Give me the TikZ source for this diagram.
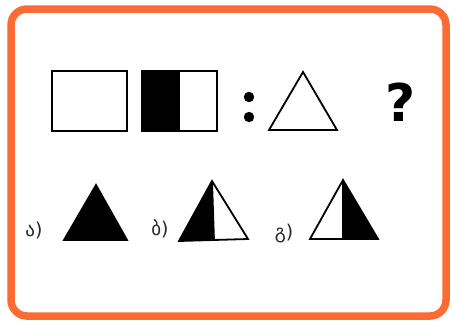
\documentclass[tikz,border=0pt]{standalone}
\usepackage{fontspec}
\newfontfamily\geo{DejaVu Sans}
\newfontfamily\qfont{DejaVu Sans}
\definecolor{frameorange}{RGB}{250,108,52}
\definecolor{labelgray}{RGB}{40,40,40}
\tikzset{
  shapeline/.style={draw=black, line width=2.6pt, line join=miter},
  triline/.style={draw=black, line width=1.8pt, line join=miter},
  optlabel/.style={font=\geo\fontsize{19}{19}\selectfont, text=labelgray, inner sep=0pt}
}
\begin{document}
\begin{tikzpicture}[x=1pt,y=-1pt]
\useasboundingbox (0,0) rectangle (452,322);
\fill[white] (0,0) rectangle (452,322);
% frame
\draw[frameorange, line width=7.5pt, rounded corners=16pt] (11,9) rectangle (446,316);
% rectangles
\draw[shapeline] (52,71) rectangle (127,131);
\fill[black] (142,71) rectangle (180,131);
\draw[shapeline] (142,71) rectangle (217,131);
% colon
\fill (249,97) circle (5.2);
\fill (249,117) circle (5.2);
% triangle
\draw[triline] (303,72) -- (337,130) -- (269,130) -- cycle;
% question mark
\node (q) at (401,102) {\qfont\bfseries\fontsize{52}{52}\selectfont ?};
% options
\node[optlabel] (la) at (34,231) {ა)};
\fill[black] (96,185) -- (127,240) -- (64,240) -- cycle;
\draw[triline] (96,185) -- (127,240) -- (64,240) -- cycle;
\node[optlabel] (lb) at (160,229) {ბ)};
\fill[black] (212,181) -- (214,240.5) -- (179,241) -- cycle;
\draw[triline] (212,181) -- (248,239) -- (179,241) -- cycle;
\draw[triline] (212,181) -- (214,240.5);
\node[optlabel] (lc) at (284,234) {გ)};
\fill[black] (343,180) -- (378,239) -- (343,239) -- cycle;
\draw[triline] (343,180) -- (378,239) -- (310,239) -- cycle;
\draw[triline] (343,180) -- (343,239);
\end{tikzpicture}
\end{document}
